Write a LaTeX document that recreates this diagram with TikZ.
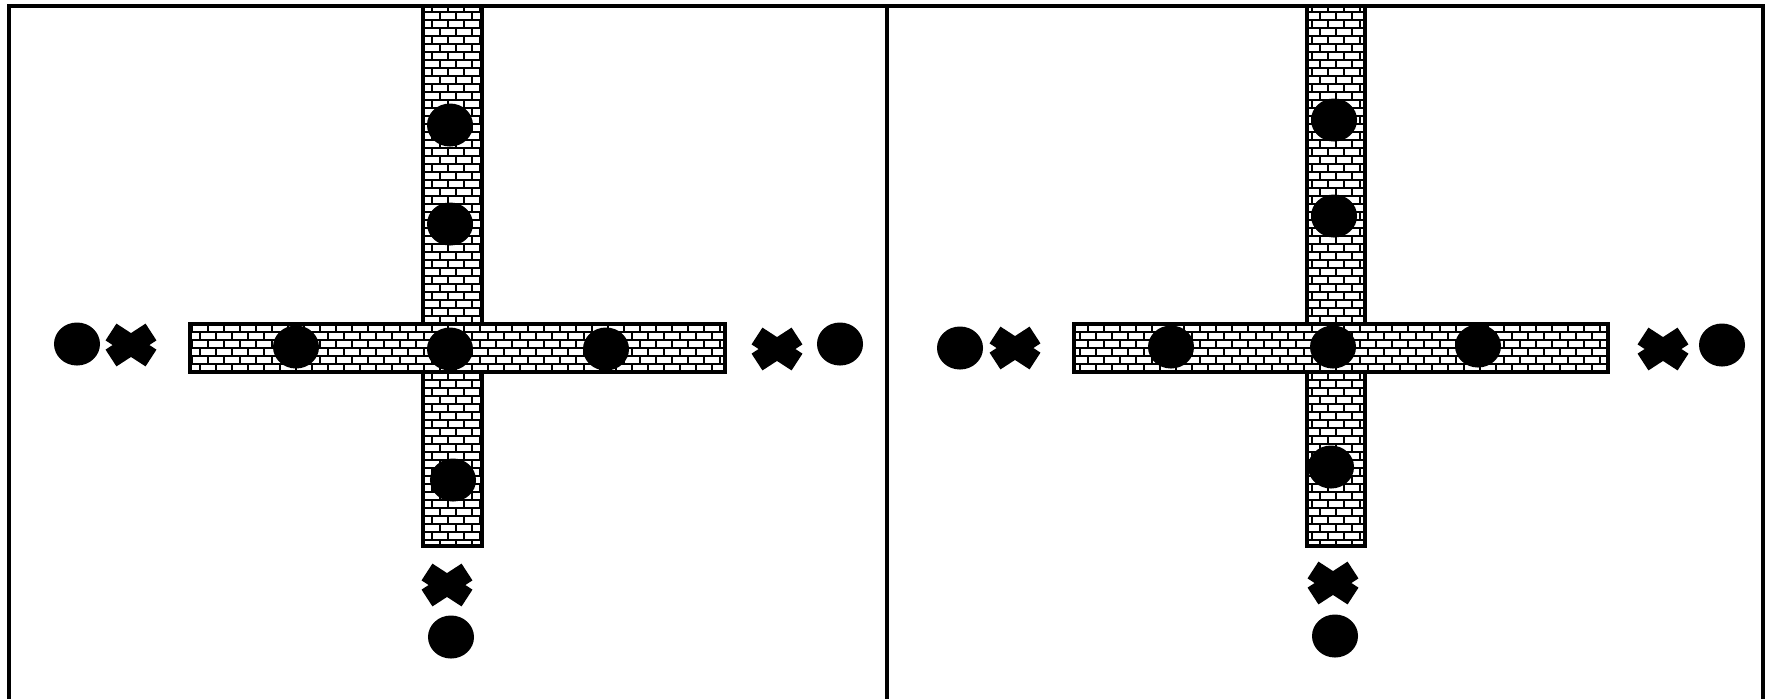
\documentclass[tikz,border=0pt]{standalone}
\usepackage{tikz}
\usetikzlibrary{shapes.geometric, shapes.misc}

% brick-filled bar: left, top, right, bottom (in px units)
\newcommand{\brickbar}[4]{%
  \begin{scope}
    \clip (#1,#2) rectangle (#3,#4);
    \fill[white] (#1,#2) rectangle (#3,#4);
    \pgfmathtruncatemacro{\rowA}{floor((#2-4)/8)}
    \pgfmathtruncatemacro{\rowB}{ceil((#4-4)/8)}
    \pgfmathtruncatemacro{\colA}{floor(#1/16)-1}
    \pgfmathtruncatemacro{\colB}{ceil(#3/16)}
    \foreach \r in {\rowA,...,\rowB}{
      \draw[mortar] (#1,4+8*\r) -- (#3,4+8*\r);
      \foreach \c in {\colA,...,\colB}
        \draw[mortar] ({16*\c+8*mod(\r,2)},4+8*\r) -- ++(0,8);
    }
  \end{scope}
  \draw[barline] (#1,#2) rectangle (#3,#4);
}

\begin{document}
\begin{tikzpicture}[
    x=0.01cm, y=-0.01cm,
    frame/.style={draw=black, line width=1.3pt},
    barline/.style={draw=black, line width=0.9pt},
    mortar/.style={draw=black, line width=0.5pt},
    dot/.style={ellipse, fill=black, inner sep=0pt, minimum width=0.46cm, minimum height=0.43cm},
    mark x/.style={cross out, draw=black, line width=0.2cm, inner sep=0pt, outer sep=0pt,
                   minimum width=0.40cm, minimum height=0.26cm}
]
\useasboundingbox (0,0) rectangle (1770,699);
\fill[white] (0,0) rectangle (1770,699);

% -------- Frame --------
\draw[frame] (9,699) -- (9,6) -- (1763,6) -- (1763,699);
\draw[frame] (887,6) -- (887,699);

% -------- Left panel: bars --------
\brickbar{423}{6}{482}{546}
\brickbar{190}{324}{725}{372}

% -------- Left panel: beads --------
\node[dot] (lUpA)  at (450,125) {};
\node[dot] (lUpB)  at (450,224) {};
\node[dot] (lMid)  at (450,349) {};
\node[dot] (lWest) at (296,347) {};
\node[dot] (lEast) at (606,349) {};
\node[dot] (lLow)  at (453,480) {};
\node[dot] (lOutW) at (77,344) {};
\node[dot] (lOutE) at (840,344) {};
\node[dot] (lOutS) at (451,637) {};

% -------- Left panel: crosses --------
\node[mark x] (lXW) at (131,345) {};
\node[mark x] (lXE) at (777,349) {};
\node[mark x] (lXS) at (447,585) {};

% -------- Right panel: bars --------
\brickbar{1307}{6}{1365}{546}
\brickbar{1074}{324}{1608}{372}

% -------- Right panel: beads --------
\node[dot] (rUpA)  at (1334,120) {};
\node[dot] (rUpB)  at (1334,216) {};
\node[dot] (rMid)  at (1333,347) {};
\node[dot] (rWest) at (1171,347) {};
\node[dot] (rEast) at (1478,346) {};
\node[dot] (rLow)  at (1331,467) {};
\node[dot] (rOutW) at (960,348) {};
\node[dot] (rOutE) at (1722,345) {};
\node[dot] (rOutS) at (1335,636) {};

% -------- Right panel: crosses --------
\node[mark x] (rXW) at (1015,348) {};
\node[mark x] (rXE) at (1663,349) {};
\node[mark x] (rXS) at (1333,583) {};

\end{tikzpicture}
\end{document}
